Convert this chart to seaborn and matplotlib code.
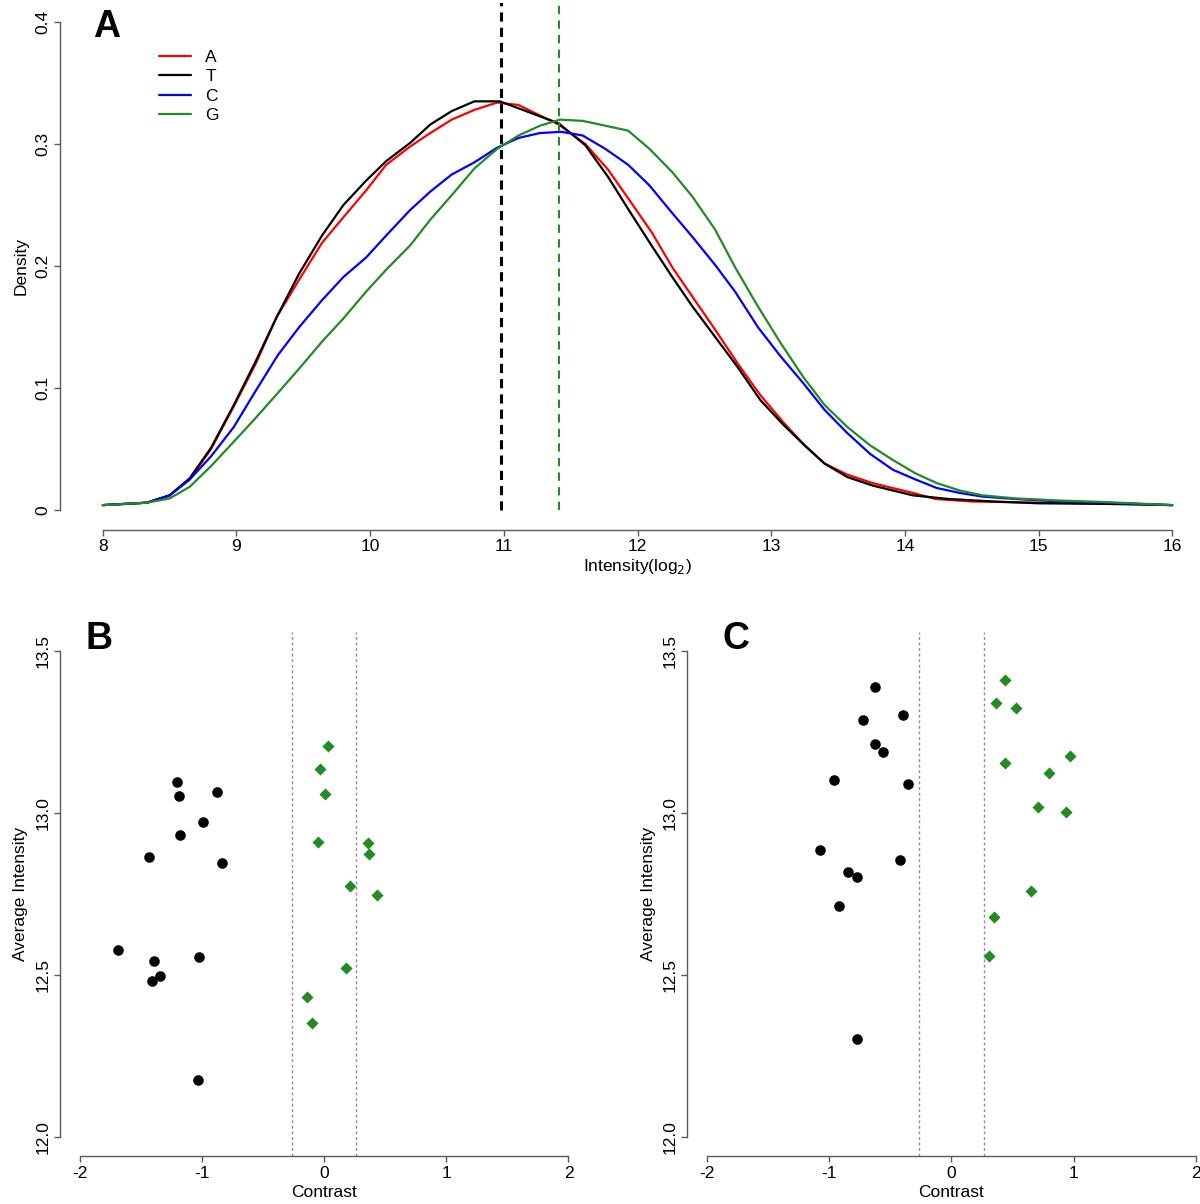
import numpy as np
import pandas as pd
import matplotlib
matplotlib.use("Agg")
import matplotlib.pyplot as plt
import seaborn as sns

# ---- panel A: intensity densities per base ----
x_A = [8.0, 8.33, 8.50, 8.65, 8.81, 8.98, 9.14, 9.30, 9.47, 9.64, 9.80, 9.97, 10.12, 10.30,
       10.45, 10.61, 10.78, 10.95, 11.11, 11.24, 11.41, 11.61, 11.78, 11.94, 12.11, 12.26,
       12.41, 12.58, 12.75, 12.92, 13.09, 13.25, 13.40, 13.57, 13.76, 14.06, 14.23, 14.50,
       15.0, 15.5, 16.0]
dens_A = [0.004, 0.006, 0.012, 0.025, 0.050, 0.085, 0.119, 0.158, 0.189, 0.219, 0.240, 0.262,
          0.283, 0.298, 0.309, 0.320, 0.328, 0.334, 0.332, 0.325, 0.316, 0.300, 0.279, 0.254,
          0.227, 0.199, 0.175, 0.148, 0.120, 0.094, 0.072, 0.053, 0.038, 0.029, 0.022, 0.014,
          0.009, 0.007, 0.006, 0.0055, 0.004]

x_T = [8.0, 8.33, 8.50, 8.65, 8.81, 8.98, 9.14, 9.30, 9.47, 9.64, 9.80, 9.97, 10.12, 10.30,
       10.45, 10.61, 10.78, 10.97, 11.41, 11.61, 11.78, 11.94, 12.11, 12.26, 12.41, 12.58,
       12.75, 12.92, 13.09, 13.25, 13.40, 13.57, 13.76, 14.06, 14.33, 14.66, 15.0, 15.5, 16.0]
dens_T = [0.004, 0.006, 0.012, 0.026, 0.051, 0.086, 0.121, 0.158, 0.194, 0.225, 0.250, 0.270,
          0.286, 0.301, 0.316, 0.327, 0.335, 0.335, 0.317, 0.299, 0.273, 0.245, 0.216, 0.191,
          0.167, 0.142, 0.117, 0.090, 0.070, 0.053, 0.038, 0.027, 0.020, 0.012, 0.009, 0.007,
          0.0055, 0.005, 0.004]

x_C = [8.0, 8.33, 8.50, 8.65, 8.81, 8.98, 9.14, 9.31, 9.47, 9.64, 9.80, 9.97, 10.12, 10.30,
       10.45, 10.61, 10.78, 10.95, 11.11, 11.27, 11.43, 11.59, 11.76, 11.93, 12.09, 12.24,
       12.41, 12.58, 12.73, 12.90, 13.07, 13.24, 13.40, 13.57, 13.74, 13.91, 14.08, 14.24,
       14.41, 14.58, 14.83, 15.17, 15.5, 16.0]
dens_C = [0.004, 0.006, 0.012, 0.025, 0.044, 0.068, 0.097, 0.127, 0.150, 0.172, 0.191, 0.207,
          0.225, 0.246, 0.261, 0.275, 0.285, 0.297, 0.305, 0.309, 0.310, 0.307, 0.296, 0.283,
          0.266, 0.246, 0.224, 0.201, 0.179, 0.150, 0.126, 0.104, 0.082, 0.063, 0.046, 0.033,
          0.025, 0.018, 0.014, 0.011, 0.009, 0.007, 0.006, 0.004]

x_G = [8.0, 8.33, 8.50, 8.65, 8.81, 8.98, 9.14, 9.31, 9.47, 9.64, 9.80, 9.97, 10.12, 10.30,
       10.45, 10.61, 10.78, 10.95, 11.11, 11.27, 11.42, 11.59, 11.76, 11.93, 12.09, 12.26,
       12.41, 12.58, 12.73, 12.90, 13.07, 13.24, 13.40, 13.57, 13.74, 13.91, 14.08, 14.24,
       14.41, 14.58, 14.83, 15.17, 15.5, 16.0]
dens_G = [0.004, 0.006, 0.0095, 0.019, 0.036, 0.056, 0.075, 0.096, 0.116, 0.138, 0.157, 0.179,
          0.197, 0.217, 0.238, 0.258, 0.280, 0.296, 0.307, 0.315, 0.320, 0.319, 0.315, 0.311,
          0.296, 0.277, 0.257, 0.230, 0.199, 0.167, 0.137, 0.109, 0.086, 0.068, 0.053, 0.041,
          0.030, 0.022, 0.016, 0.012, 0.0095, 0.0077, 0.0065, 0.004]

bases = ["A", "T", "C", "G"]
base_colors = {"A": "red", "T": "black", "C": "blue", "G": "forestgreen"}
peak_lines = [10.98, 11.41]          # dashed markers (T, G)
peak_colors = ["black", "forestgreen"]

# ---- panels B and C: contrast vs average intensity ----
B_neg_x = [-1.205, -1.183, -0.872, -0.988, -1.177, -1.434, -0.837, -1.689, -1.394, -1.023, -1.343, -1.409, -1.029]
B_neg_y = [13.097, 13.054, 13.066, 12.973, 12.931, 12.863, 12.845, 12.577, 12.543, 12.555, 12.498, 12.483, 12.177]
B_pos_x = [0.036, -0.036, 0.008, -0.049, 0.360, 0.366, 0.209, 0.432, 0.181, -0.140, -0.102]
B_pos_y = [13.208, 13.137, 13.060, 12.911, 12.907, 12.875, 12.774, 12.747, 12.522, 12.432, 12.353]

C_neg_x = [-0.623, -0.399, -0.723, -0.623, -0.557, -0.962, -0.352, -1.079, -0.418, -0.846, -0.777, -0.918, -0.777]
C_neg_y = [13.390, 13.304, 13.287, 13.212, 13.189, 13.102, 13.090, 12.886, 12.855, 12.819, 12.803, 12.714, 12.302]
C_pos_x = [0.434, 0.365, 0.531, 0.969, 0.437, 0.796, 0.704, 0.940, 0.654, 0.349, 0.308]
C_pos_y = [13.410, 13.339, 13.325, 13.176, 13.154, 13.125, 13.020, 13.004, 12.760, 12.678, 12.560]

cutoff = np.log2(1.2)

sns.set_style("ticks")
plt.rcParams["font.family"] = ["Liberation Sans", "DejaVu Sans"]
plt.rcParams["font.size"] = 12.5
plt.rcParams["text.color"] = "black"
plt.rcParams["axes.labelcolor"] = "black"
plt.rcParams["xtick.labelcolor"] = "black"
plt.rcParams["ytick.labelcolor"] = "black"

AXCOL = "#5a5a5a"
GREEN = "#228B22"
FS = 12.5


def r_axes(ax, xt, xl, yt, yl):
    # base-R look: no box, axis lines only over the tick range
    for s in ["top", "right"]:
        ax.spines[s].set_visible(False)
    for s in ["left", "bottom"]:
        ax.spines[s].set_color(AXCOL)
        ax.spines[s].set_linewidth(1)
    ax.spines["bottom"].set_bounds(xt[0], xt[-1])
    ax.spines["left"].set_bounds(yt[0], yt[-1])
    ax.set_xticks(xt)
    ax.set_xticklabels(xl)
    ax.set_yticks(yt)
    ax.set_yticklabels(yl, rotation=90, va="center")
    ax.tick_params(direction="out", length=4, width=1, color=AXCOL, labelsize=FS, pad=3)
    ax.grid(False)


fig = plt.figure(figsize=(12, 12.04), dpi=100)

# panel A
axA = fig.add_axes([0.05, 0.5602, 0.9625, 0.4377])
dfA = pd.concat([
    pd.DataFrame({"x": x_A, "density": dens_A, "base": "A"}),
    pd.DataFrame({"x": x_T, "density": dens_T, "base": "T"}),
    pd.DataFrame({"x": x_C, "density": dens_C, "base": "C"}),
    pd.DataFrame({"x": x_G, "density": dens_G, "base": "G"}),
])
sns.lineplot(data=dfA, x="x", y="density", hue="base", hue_order=bases,
             palette=base_colors, estimator=None, linewidth=1.6, ax=axA, legend=False)
axA.vlines(peak_lines[0], 0, 0.45, colors=peak_colors[0], linewidth=2.2, linestyles=(0, (3, 2)))
axA.vlines(peak_lines[1], 0, 0.45, colors=peak_colors[1], linewidth=1.5, linestyles=(0, (4, 3)))
axA.set_xlim(7.68, 16.32)
axA.set_ylim(-0.016, 0.416)
r_axes(axA, [8, 9, 10, 11, 12, 13, 14, 15, 16], ["8", "9", "10", "11", "12", "13", "14", "15", "16"],
       [0, 0.1, 0.2, 0.3, 0.4], ["0", "0.1", "0.2", "0.3", "0.4"])
axA.set_xlabel("Intensity(log$_2$)", fontsize=FS, labelpad=2)
axA.set_ylabel("Density", fontsize=FS, labelpad=5)
handles = [plt.Line2D([], [], color=base_colors[b], linewidth=1.6) for b in bases]
axA.legend(handles, bases, loc="upper left", bbox_to_anchor=(0.086, 0.91), frameon=False,
           borderpad=0, borderaxespad=0, handlelength=1.8, handletextpad=0.85,
           labelspacing=0.24, fontsize=FS)
fig.text(93 / 1200, 1 - 37 / 1204, "A", fontsize=27, fontweight="bold", va="baseline")


def contrast_panel(rect, nx, ny, px, py, label, lx):
    ax = fig.add_axes(rect)
    sns.scatterplot(x=nx, y=ny, color="black", marker="o", s=58, linewidth=0, ax=ax)
    sns.scatterplot(x=px, y=py, color=GREEN, marker="D", s=38, linewidth=0, ax=ax)
    for c in [-cutoff, cutoff]:
        ax.axvline(c, color="#8c8c8c", linewidth=1, linestyle=(0, (2, 2)))
    ax.set_xlim(-2.16, 2.16)
    ax.set_ylim(11.94, 13.56)
    r_axes(ax, [-2, -1, 0, 1, 2], ["-2", "-1", "0", "1", "2"],
           [12.0, 12.5, 13.0, 13.5], ["12.0", "12.5", "13.0", "13.5"])
    ax.set_xlabel("Contrast", fontsize=FS, labelpad=3)
    ax.set_ylabel("Average Intensity", fontsize=FS, labelpad=5)
    fig.text(lx / 1200, 1 - 649 / 1204, label, fontsize=27, fontweight="bold", va="baseline")
    return ax


contrast_panel([0.05, 0.0395, 0.44, 0.4359], B_neg_x, B_neg_y, B_pos_x, B_pos_y, "B", 85)
contrast_panel([0.5729, 0.0395, 0.44, 0.4359], C_neg_x, C_neg_y, C_pos_x, C_pos_y, "C", 722)

fig.savefig("out.png", dpi=100)
